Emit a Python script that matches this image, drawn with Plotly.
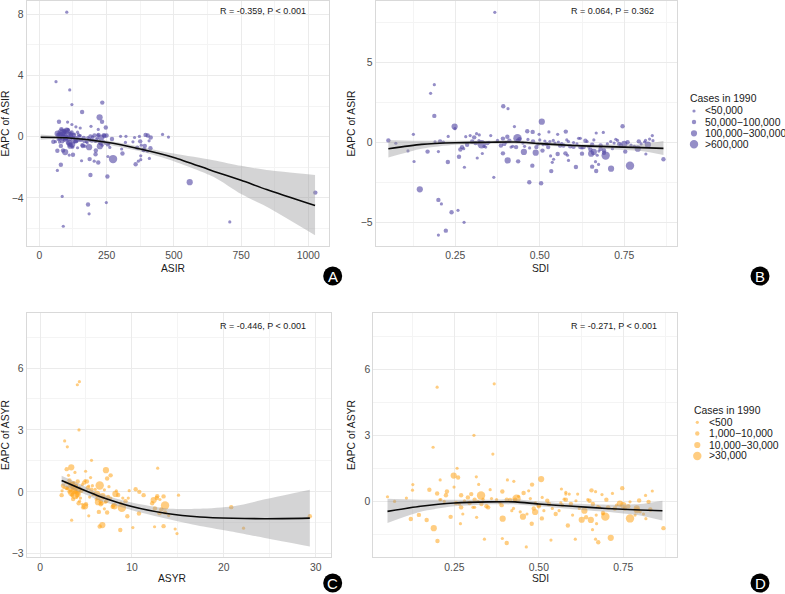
import plotly.graph_objects as go

W, H = 785, 594
GROUP_STYLE = {0: 3.2, 1: 4.4, 2: 6.2, 3: 8.4}
BLUE = "rgba(84,72,165,0.62)"
ORANGE = "rgba(255,165,30,0.56)"

legend_title = "Cases in 1990"
legend_ab = ["<50,000", "50,000\u2212100,000", "100,000\u2212300,000", ">600,000"]
legend_cd = ["<500", "1,000\u221210,000", "10,000\u221230,000", ">30,000"]

# Panel A: ASIR, EAPC of ASIR, case group
a_x = [102,62,113,121,159,234,224,233,73,105,192,136,152,121,247,219,458,480,403,322,302,354,414,408,375,379,320,348,306,309,413,387,364,377,377,368,358,409,274,559,1026,708,89,85,181,249,185,190,253,67,80,219,187,204,157,111,125,67,209,210,255,185,162,142,115,
       83,78,90,95,70,88,100,105,110,85,75,60,52,68,95,118,128,135,140,150,165,175,190,205,215,230,240,250,258,262,270,120,108,112,122,135,145,155,98,92,82,76,200,212,220,228,238,255,170,180,195,148,130,102,116,125,160,245,225,395,372,390,402,392,
       88,96,104,112,118,126,132,138,144,152,158,168,178,186,198,208,218,226,234,242,72,80,86,94,100,106,114,124,130,142]
a_y = [8.14,3.6,3.06,2.1,1.62,2.23,1.27,.98,.98,.96,.68,.65,.57,.8,.6,.48,.15,-.02,.08,.03,.03,-.05,-.05,-.27,-.3,-.55,-.37,-.33,-.8,-1.1,-.75,-.87,-.72,-1.25,-1.5,-1.6,-1.8,-1.42,-1.46,-2.97,-3.65,-5.57,-5.85,-3.9,-4.43,-4.3,-5.04,-2.5,-2.6,-2.2,-1.83,-1.68,-1.46,-1.6,-1.57,-1.2,-1.18,-.92,-1.14,-.9,-1.29,-.68,-.61,-.72,-.59,
       .26,.1,.15,.35,.12,-.05,.3,.05,-.1,-.3,-.35,-.32,-.33,.2,-.2,.02,.1,-.1,-.25,.05,-.08,-.32,.02,.08,-.1,-.05,.1,.08,-.45,-.7,-.15,.28,.45,-.4,-.5,-.3,.15,-.2,-.05,.38,.5,-.12,-.2,-.25,.12,-.42,-.3,-.5,-.62,-.05,-.25,-.22,-.35,.4,.22,-.15,-.55,-.42,-.62,.12,.02,-.85,-.95,-.6,-.9,-1.0,
       .42,.22,.12,-.02,-.15,-.28,.0,.08,-.18,-.28,-.4,-.2,.0,-.3,.1,-.35,-.55,.05,-.15,-.6,.25,.32,-.12,-.4,-.55,-.68,.18,.3,-.22,.25]
a_g = [0,0,0,0,1,1,2,1,1,0,0,0,0,0,1,0,0,0,1,0,0,0,1,0,1,0,0,0,0,1,1,1,1,0,0,0,1,0,3,2,1,0,0,0,1,0,0,1,1,0,1,1,1,0,0,0,1,1,1,1,0,2,1,0,2,
       3,2,2,1,1,2,1,1,2,1,0,0,1,2,1,1,1,1,0,0,1,0,1,1,0,2,1,1,0,0,1,1,0,2,2,1,0,1,2,1,1,1,0,1,1,1,0,1,0,0,1,0,0,2,1,1,1,0,2,1,0,1,0,1,
       1,2,1,0,1,0,0,1,0,0,0,1,0,1,0,0,0,1,0,1,1,1,2,0,1,1,1,0,0,0]

# Panel B: SDI, EAPC of ASIR, case group
b_x = [.367,.188,.177,.188,.392,.406,.506,.248,.249,.425,.745,.052,.074,.126,.229,.11,.128,.168,.2,.228,.145,.2,.209,.239,.258,.276,.222,.2,.277,.364,.261,.315,.33,.391,.405,.436,.453,.488,.508,.478,.469,.504,.534,.537,.541,.532,.553,.576,.582,.585,.607,.625,.652,.655,.665,.667,.674,.67,.695,.711,.767,.753,.814,.866,.833,.813,.793,.725,.688,.667,.577,.527,.463,.479,.498,.553,.313,.355,.321,.281,.294,.306,.404,.391,.434,.328,
       .215,.19,.205,.27,.265,.275,.285,.3,.34,.35,.385,.41,.42,.44,.455,.47,.49,.5,.51,.52,.53,.545,.56,.58,.59,.6,.62,.63,.64,.65,.66,.68,.69,.7,.72,.74,.75,.76,.78,.79,.8,.82,.835,.62,.66,.68,.69,.43,.4,.31,
       .32,.335,.345,.375,.395,.415,.435,.45,.465,.48,.495,.515,.525,.54,.555,.57,.585,.61,.615,.635,.645,.655,.675,.71,.73,.735,.77,.81,.825,.565,.6,.625,.715]
b_y = [8.12,3.6,3.06,1.65,2.25,2.1,1.29,.98,.85,.98,1.0,.12,-.06,.5,.37,-.54,-1.2,-.58,-.58,-1.23,-2.94,-3.6,-3.85,-4.37,-4.25,-5,-5.52,-5.8,-1.56,-2.19,-.9,-.98,-.7,-.69,-1.13,-1.19,-.6,-.65,-.52,-1.46,-2.5,-2.56,-1.8,-1.25,-1.06,-.85,-.73,-.69,-.81,-1.13,-1.54,-.71,-.71,-1.52,-1.21,-1.79,-1.38,-.81,-.83,-1.65,-1.46,-.58,-.73,-1.06,.42,.12,.06,.19,.62,.58,.67,.65,.69,.65,.5,.5,.54,.42,.46,.35,.42,.31,.35,.23,.25,-.12,
       .02,.03,.05,-.3,-.45,-.4,-.15,.05,-.3,.0,-.2,.1,-.25,.2,-.25,-.35,-.3,.15,-.15,-.1,.05,-.05,-.2,.15,-.25,-.02,.25,-.3,.05,-.45,.15,-.2,-.5,-.1,-.05,-.2,-.1,.0,-.25,-.4,-.1,-.15,.1,-.3,-.6,-.4,-.65,-.3,.0,-.05,
       .1,-.25,-.05,.12,-.1,-.3,.1,-.05,.18,.05,-.12,.08,-.3,.12,.02,-.2,.05,-.1,.25,.1,-.3,-.15,-.55,.05,.12,-.1,-.18,.02,.2,-.08,-.28,-.35,-.4]
b_g = [0,0,0,1,1,0,2,2,0,0,1,1,0,0,0,0,0,1,0,1,2,1,0,1,0,0,1,0,0,0,1,0,0,1,2,1,2,2,1,1,1,1,1,0,0,0,1,1,0,0,1,1,2,1,0,1,0,0,3,2,3,1,0,1,0,0,1,0,0,0,1,0,1,1,0,0,0,0,0,0,0,1,1,1,3,3,
       0,0,1,1,1,0,1,1,0,0,1,1,0,1,0,0,1,0,0,1,0,0,1,0,1,0,0,1,0,1,0,1,1,0,0,1,2,1,0,2,0,2,0,1,2,1,1,1,0,1,
       0,0,1,0,1,0,1,0,0,1,0,0,1,0,0,1,0,0,0,1,0,1,0,0,0,1,0,0,0,0,1,0,0]

# Panel C: ASYR, EAPC of ASYR, case group
c_x = [4.28,4.06,4.24,2.68,2.97,5.6,3.4,2.9,4.96,3.8,7.17,12.8,7.68,5.5,6.49,15.07,10.4,9.7,10.8,11.27,12.75,13.44,12.36,13.04,13.6,12.5,13,13.6,14,20.8,29.35,22.14,12.46,13.44,14.7,14.9,10.1,8.73,6.78,6.49,10.76,9.5,8.9,3.44,5.3,6.4,7.3,7,7.9,
       2.35,2.4,2.5,2.8,3.0,3.2,3.3,3.4,3.5,3.6,3.7,3.8,3.9,4.0,4.1,4.2,4.3,4.5,4.6,4.7,4.9,5.1,5.3,5.6,5.8,6.1,6.3,6.6,6.8,7.0,7.3,7.5,8.0,8.2,8.5,9.0,9.3,9.6,3.2,3.5,3.8,3.9,4.1,4.4,4.8,5.0,6.2,6.6,7.1,7.4,8.1,12.2,12.7,13.2,2.9,3.1,3.6,4.2,
       2.6,2.9,3.1,3.3,3.5,3.7,3.9,4.1,4.3,4.6,4.9,5.2,5.4,5.7,6.0,6.3,6.7,6.9,7.2,7.7,8.3,8.8]
c_y = [5.34,5.19,3.0,2.47,2.18,1.53,1.19,1.1,1.0,.94,1.05,1.15,.8,.69,.31,-.16,.13,.06,0,-.16,-.21,-.22,-.4,-.37,-.66,-.8,-1.03,-1,-1.15,-.74,-1.18,-1.76,-1.69,-1.66,-1.8,-2.02,-1.73,-1.85,-1.61,-1.68,-1.05,-1.18,-.77,-1.37,-1.16,-.97,-1,-.82,-.72,
       -.16,.05,.3,.45,.18,.55,.1,-.05,.4,.22,.05,-.15,.3,-.25,.5,.12,-.45,.05,-.6,-.75,-.7,.5,.28,.1,-.1,-.35,-.5,-.45,-.2,.1,.65,.25,-.65,-.1,-.15,-.3,-.45,-.3,.02,.35,.2,.0,-.1,-.3,.45,-.6,-.1,-.6,-.5,-.25,-.7,-.55,-.3,-.85,.2,.8,-.35,-.55,
       .2,.15,.4,.3,-.15,.45,.28,-.08,.2,.35,.55,.2,-.25,.3,.12,-.3,-.55,-.3,-.45,-.3,.05,-.55]
c_g = [0,0,0,0,0,0,2,1,0,0,2,0,1,0,3,0,1,0,1,1,1,1,2,0,3,1,1,1,0,1,1,0,0,1,0,0,0,1,2,1,1,1,3,0,0,1,1,0,1,
       1,0,1,0,0,1,1,2,1,1,2,3,1,0,1,2,0,1,0,1,2,1,0,1,1,0,2,1,2,0,1,0,1,2,1,0,1,0,1,2,2,1,2,0,1,1,2,1,0,1,2,1,1,1,1,0,1,1,
       0,0,0,1,1,0,1,1,0,0,0,1,0,0,0,1,1,0,1,0,0,0]

# Panel D: SDI, EAPC of ASYR, case group
d_x = [.368,.199,.308,.187,.364,.258,.248,.261,.315,.208,.127,.407,.426,.507,.48,.322,.249,.052,.073,.108,.126,.176,.199,.228,.207,.329,.434,.392,.356,.121,.145,.168,.189,.2,.239,.268,.316,.339,.392,.405,.463,.393,.453,.479,.509,.489,.536,.586,.608,.627,.654,.668,.676,.659,.671,.713,.697,.77,.869,.817,.836,.816,.797,.747,.718,.656,.668,.687,.567,.58,
       .22,.255,.27,.275,.29,.3,.305,.32,.33,.345,.36,.39,.405,.42,.43,.445,.465,.485,.5,.515,.525,.54,.55,.565,.58,.595,.61,.62,.635,.645,.66,.675,.69,.705,.725,.74,.755,.77,.79,.8,.83,.67,.69,.64,.58,.27,.31,.5,.75,.79,
       .21,.225,.265,.28,.295,.31,.335,.35,.375,.385,.415,.425,.44,.455,.475,.49,.51,.53,.56,.575,.6,.615,.65,.68,.7,.73,.765,.785,.81,.825,.57,.59,.47]
d_y = [5.34,5.19,3.01,2.47,2.16,1.52,1.19,1.1,1.13,.99,.78,.99,.93,1.03,.78,.79,.67,.23,.02,.17,.53,.55,.38,.47,.09,.29,.14,.47,.55,-.78,-.59,-.82,-1.19,-1.77,-.68,-.99,-.7,-1.69,-1.66,-1.86,-2.04,-.76,-.67,-.99,-.75,-.46,-1.73,-1.07,-1.69,-.81,-.82,-1.69,-1.83,-1.26,-.99,-1.63,-.67,-.75,-1.19,-.76,.49,.29,.06,.62,.38,.52,.46,.33,.58,.43,
       .02,-.05,-.25,-.55,.2,.35,-.25,.02,-.1,-.2,.15,-.15,.1,-.4,.1,-.45,-.55,-.3,-.15,-.4,.05,-.3,-.55,-.05,.1,-.1,.05,-.3,-.4,.1,-.1,-.2,-.5,-.25,-.3,-.08,-.3,.0,-.3,-.45,-.35,-.6,-.55,-.7,.35,.3,.1,-.2,-.15,-.38,
       .1,.3,-.1,.05,-.05,-.25,.12,-.25,.1,-.05,.08,-.3,.25,.4,.15,-.05,.2,-.1,-.4,.12,-.6,.35,.05,-.25,.1,-.15,-.2,-.6,-.55,.0,-.15,.35,.5]
d_g = [0,0,0,0,0,0,2,1,0,0,0,0,0,2,1,0,0,0,0,0,0,1,1,1,0,3,3,1,0,1,1,1,2,1,1,0,0,0,0,1,0,2,2,1,1,2,0,1,0,2,2,0,1,0,0,2,3,3,1,0,0,0,1,1,0,1,0,0,0,0,
       0,1,1,0,1,1,0,0,1,1,0,1,1,0,1,0,0,1,1,0,1,0,1,0,1,1,0,0,2,0,1,0,1,1,1,2,1,0,2,0,1,0,0,1,0,1,1,1,2,2,
       0,1,0,0,1,0,0,1,0,0,1,0,0,1,0,0,0,1,0,0,0,0,1,0,1,0,1,0,0,1,0,0,0]

# Smooth fits and confidence limits
a_sx = [5,100,250,375,500,647,750,845,1025]
a_fit = [-.03,-.07,-.36,-.8,-1.35,-2.25,-2.85,-3.45,-4.5]
a_up = [.15,0,-.25,-.65,-1.1,-1.53,-1.9,-2.18,-2.5]
a_lo = [-.2,-.14,-.5,-.95,-1.6,-2.62,-3.75,-4.58,-6.44]

b_sx = [.052,.15,.25,.35,.43,.5,.6,.7,.8,.866]
b_fit = [-.4,-.13,-.03,0,.02,-.08,-.2,-.27,-.33,-.38]
b_up = [.15,.1,.1,.1,.13,.03,-.1,-.13,-.12,.08]
b_lo = [-.95,-.4,-.15,-.1,-.1,-.18,-.3,-.42,-.55,-.8]

c_sx = [2.35,4.7,6.5,10.1,13.8,17.4,21,24.6,29.35]
c_fit = [.55,.1,-.22,-.72,-1.05,-1.22,-1.28,-1.3,-1.27]
c_up = [.78,.3,-.08,-.53,-.8,-.82,-.7,-.35,.1]
c_lo = [.32,-.08,-.42,-.9,-1.3,-1.65,-1.93,-2.25,-2.65]

d_sx = [.052,.15,.25,.35,.43,.5,.6,.7,.8,.866]
d_fit = [-.43,-.2,-.05,0,0,-.1,-.2,-.3,-.37,-.4]
d_up = [.14,.1,.1,.1,.12,.02,-.08,-.13,-.1,.05]
d_lo = [-.96,-.45,-.2,-.12,-.12,-.2,-.33,-.45,-.62,-.85]

panels = [
    dict(key="", px=(26.7, 328.5), py=(1, 246), xr=[-47, 1075], yr=[-7.14, 8.87],
         x=a_x, y=a_y, g=a_g, sx=a_sx, fit=a_fit, up=a_up, lo=a_lo, color=BLUE,
         xt=[0,250,500,750,1000], xl=["0","250","500","750","1000"], xm=125,
         yt=[-4,0,4,8], ym=2, ym0=-6, xm0=125,
         xtitle="ASIR", xtxy=(172.5, 268.7), ytitle="EAPC of ASIR", ytx=5, note="R = -0.359, P < 0.001",
         notexy=(307.5, 10.7), tag="A", tagxy=(332.7, 276)),
    dict(key="2", px=(375.7, 677.3), py=(1, 246), xr=[.0145, .907], yr=[-6.48, 8.83],
         x=b_x, y=b_y, g=b_g, sx=b_sx, fit=b_fit, up=b_up, lo=b_lo, color=BLUE,
         xt=[.25,.5,.75], xl=["0.25","0.50","0.75"], xm=.125,
         yt=[-5,0,5], ym=2.5, ym0=-7.5, xm0=.125,
         xtitle="SDI", xtxy=(540, 268.7), ytitle="EAPC of ASIR", ytx=351, note="R = 0.064, P = 0.362",
         notexy=(656, 10.7), tag="B", tagxy=(760, 276)),
    dict(key="3", px=(26.7, 330.5), py=(312.7, 557.3), xr=[-1.45, 31.6], yr=[-3.17, 8.68],
         x=c_x, y=c_y, g=c_g, sx=c_sx, fit=c_fit, up=c_up, lo=c_lo, color=ORANGE,
         xt=[0,10,20,30], xl=["0","10","20","30"], xm=5,
         yt=[-3,0,3,6], ym=1.5, ym0=-1.5, xm0=5,
         xtitle="ASYR", xtxy=(172.3, 578.7), ytitle="EAPC of ASYR", ytx=5, note="R = -0.446, P < 0.001",
         notexy=(307.5, 325.7), tag="C", tagxy=(332.7, 583)),
    dict(key="4", px=(373.3, 677.3), py=(312.7, 557.3), xr=[.01, .91], yr=[-2.51, 8.56],
         x=d_x, y=d_y, g=d_g, sx=d_sx, fit=d_fit, up=d_up, lo=d_lo, color=ORANGE,
         xt=[.25,.5,.75], xl=["0.25","0.50","0.75"], xm=.125,
         yt=[0,3,6], ym=1.5, ym0=-1.5, xm0=.125,
         xtitle="SDI", xtxy=(540, 578.7), ytitle="EAPC of ASYR", ytx=351, note="R = -0.271, P < 0.001",
         notexy=(658.7, 325.7), tag="D", tagxy=(760, 583)),
]

FAMILY = "Liberation Sans, Arial, sans-serif"
TICKFONT = dict(family=FAMILY, size=10.4, color="#4d4d4d")
TITLEFONT = dict(family=FAMILY, size=10.3, color="#1a1a1a")
LEGFONT = dict(family=FAMILY, size=10.4, color="#1a1a1a")

fig = go.Figure()
layout = {}
annotations, shapes = [], []


def txt(text, x, y, font, xanchor="center", **kw):
    annotations.append(dict(text=text, xref="paper", yref="paper", x=x / W, y=1 - y / H, showarrow=False,
                            xanchor=xanchor, yanchor="middle", font=font, **kw))


def disc(cx, cy, d, color):
    shapes.append(dict(type="circle", xref="paper", yref="paper", x0=(cx - d / 2) / W, x1=(cx + d / 2) / W,
                       y0=1 - (cy + d / 2) / H, y1=1 - (cy - d / 2) / H, fillcolor=color, line=dict(width=0)))


for i, p in enumerate(panels):
    k = p["key"]
    for g in range(4):
        xs = [v for v, c in zip(p["x"], p["g"]) if c == g]
        ys = [v for v, c in zip(p["y"], p["g"]) if c == g]
        names = legend_ab if i < 2 else legend_cd
        fig.add_trace(go.Scatter(x=xs, y=ys, mode="markers", name=names[g], showlegend=False,
                                 marker=dict(size=GROUP_STYLE[g], color=p["color"], line=dict(width=0)),
                                 xaxis="x" + k, yaxis="y" + k, hoverinfo="x+y"))
    fig.add_trace(go.Scatter(x=p["sx"], y=p["lo"], mode="lines",
                             line=dict(width=0, shape="spline", smoothing=0.7),
                             showlegend=False, hoverinfo="skip", xaxis="x" + k, yaxis="y" + k))
    fig.add_trace(go.Scatter(x=p["sx"], y=p["up"], mode="lines",
                             line=dict(width=0, shape="spline", smoothing=0.7), fill="tonexty",
                             fillcolor="rgba(153,153,156,0.42)", showlegend=False, hoverinfo="skip",
                             xaxis="x" + k, yaxis="y" + k))
    fig.add_trace(go.Scatter(x=p["sx"], y=p["fit"], mode="lines",
                             line=dict(color="#0a0a0a", width=1.6, shape="spline", smoothing=0.7),
                             showlegend=False, hoverinfo="skip", xaxis="x" + k, yaxis="y" + k))
    ax = dict(showline=True, linecolor="#d9d9d9", linewidth=1, mirror=True, zeroline=False,
              gridcolor="#ebebeb", gridwidth=1, ticks="", automargin=False)
    layout["xaxis" + k] = dict(ax, domain=[p["px"][0] / W, p["px"][1] / W], range=p["xr"],
                               tickvals=p["xt"], ticktext=p["xl"], tickfont=TICKFONT, anchor="y" + k,
                               minor=dict(showgrid=True, gridcolor="#f4f4f4", gridwidth=1,
                                          tick0=p["xm0"], dtick=p["xm"] * 2))
    layout["yaxis" + k] = dict(ax, domain=[1 - p["py"][1] / H, 1 - p["py"][0] / H], range=p["yr"],
                               tickvals=p["yt"], tickfont=TICKFONT, anchor="x" + k,
                               minor=dict(showgrid=True, gridcolor="#f4f4f4", gridwidth=1,
                                          tick0=p["ym0"], dtick=p["ym"] * 2))
    txt(p["xtitle"], p["xtxy"][0], p["xtxy"][1], TITLEFONT)
    txt(p["ytitle"], p["ytx"], (p["py"][0] + p["py"][1]) / 2, TITLEFONT, textangle=-90)
    txt(p["note"], p["notexy"][0], p["notexy"][1], dict(family=FAMILY, size=9, color="#1a1a1a"), xanchor="right")
    cx, cy = p["tagxy"]
    disc(cx, cy, 19, "black")
    txt(p["tag"], cx, cy, dict(family=FAMILY, size=15, color="white"))

# Size legends
for title, labels, color, tx, ty, dx, lx, rows in [
    (legend_title, legend_ab, BLUE, 688.3, 98.7, 694, 703.3, [111, 122, 133.3, 144.3]),
    (legend_title, legend_cd, ORANGE, 692, 410.3, 697.3, 707, [422.3, 433.5, 445, 456]),
]:
    txt(title, tx, ty, LEGFONT, xanchor="left")
    for g, (label, ry) in enumerate(zip(labels, rows)):
        disc(dx, ry, GROUP_STYLE[g], color)
        txt(label, lx, ry, LEGFONT, xanchor="left")

fig.update_layout(width=W, height=H, margin=dict(l=0, r=0, t=0, b=0), paper_bgcolor="white",
                  plot_bgcolor="white", showlegend=False, annotations=annotations, shapes=shapes, **layout)
fig.write_html("out.html", config=dict(displayModeBar=False), post_script="document.body.style.margin='0';")
